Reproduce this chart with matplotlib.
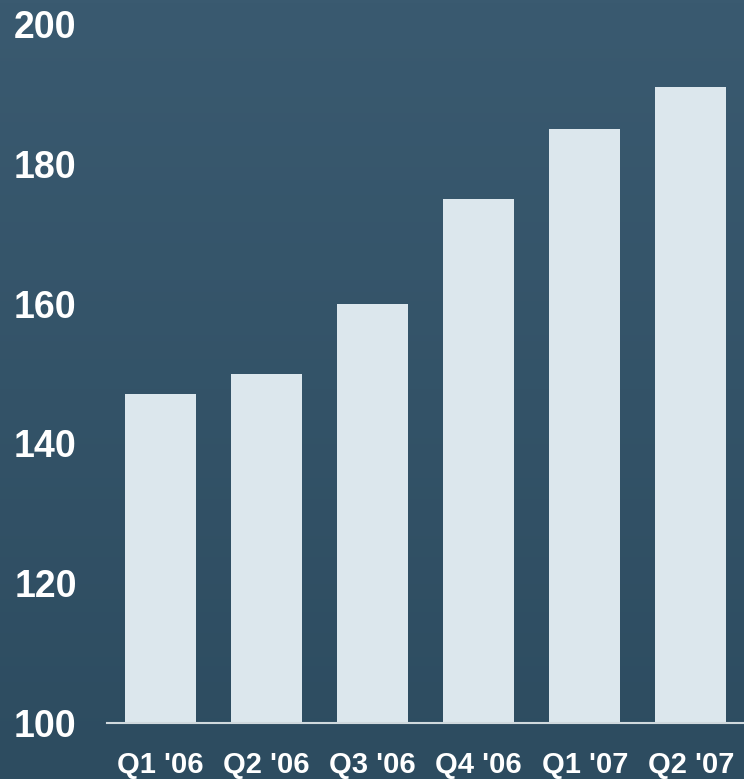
import numpy as np
import matplotlib.pyplot as plt
from matplotlib.colors import LinearSegmentedColormap

quarters = ["Q1 '06", "Q2 '06", "Q3 '06", "Q4 '06", "Q1 '07", "Q2 '07"]
values = [147, 150, 160, 175, 185, 191]
yticks = [100, 120, 140, 160, 180, 200]

plt.rcParams['font.family'] = ['Liberation Sans', 'DejaVu Sans']

fig = plt.figure(figsize=(7.44, 7.79), dpi=100)

# background gradient
bg = fig.add_axes([0, 0, 1, 1])
grad = np.linspace(0, 1, 256).reshape(-1, 1)
cmap = LinearSegmentedColormap.from_list('bg', ['#3a5a70', '#2d4c60'])
bg.imshow(grad, aspect='auto', cmap=cmap, extent=[0, 1, 0, 1])
bg.axis('off')

ax = fig.add_axes([107.3/744, 56/779, 1 - 107.3/744, (723-24)/779])
ax.patch.set_alpha(0)
x = np.arange(len(quarters))
ax.bar(x, [v - 100 for v in values], bottom=100, width=0.67, color='#dce7ed')

ax.set_xlim(-0.5, 5.5)
ax.set_ylim(100, 200)
ax.set_yticks(yticks)
ax.set_xticks(x)
ax.set_xticklabels(quarters)

for s in ['top', 'right', 'left']:
    ax.spines[s].set_visible(False)
ax.spines['bottom'].set_color('#d0d9de')
ax.spines['bottom'].set_linewidth(1.5)

ax.tick_params(axis='y', length=0, pad=22, labelsize=27, labelcolor='white')
ax.tick_params(axis='x', length=0, pad=20, labelsize=21, labelcolor='white')
for lbl in ax.get_xticklabels() + ax.get_yticklabels():
    lbl.set_fontweight('bold')

fig.savefig('out.png', dpi=100)
